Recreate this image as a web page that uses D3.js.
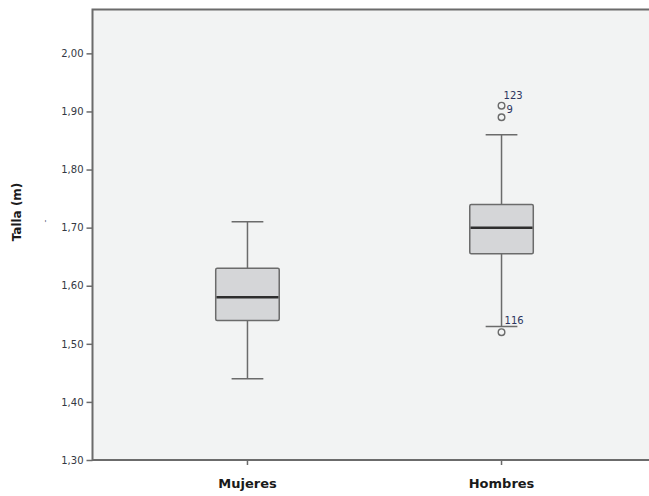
<!DOCTYPE html>
<html>
<head>
<meta charset="utf-8">
<script src="https://cdn.jsdelivr.net/npm/d3@7"></script>
<style>
  body { margin: 0; background: #fff; }
  svg { display: block; }
</style>
</head>
<body>
<div id="chart"></div>
<script>
// categories and box statistics
const categories = ['Mujeres', 'Hombres'];
const whiskerLow = [1.44, 1.53];
const q1 = [1.54, 1.655];
const median = [1.58, 1.70];
const q3 = [1.63, 1.74];
const whiskerHigh = [1.71, 1.86];

// outliers (case number, value)
const outlierGroup = ['Hombres', 'Hombres', 'Hombres'];
const outlierId = ['123', '9', '116'];
const outlierValue = [1.91, 1.89, 1.52];

const yTicks = [1.30, 1.40, 1.50, 1.60, 1.70, 1.80, 1.90, 2.00];

const WIDTH = 649;
const HEIGHT = 496;
const LEFT = 92.5;
const TOP = 9.5;
const BOTTOM = 460;
const PLOT_W = 564;

const GRID = '#6b6b6b';
const BOX_FILL = '#d5d6d8';
const TEXT_COLOR = '#343843';

let svg = d3.select('#chart').append('svg')
  .attr('width', WIDTH)
  .attr('height', HEIGHT);

let x = d3.scaleBand()
  .domain(categories)
  .range([LEFT, LEFT + PLOT_W])
  .paddingInner(0)
  .paddingOuter(0.11);

let y = d3.scaleLinear()
  .domain([1.30, 2.0755])
  .range([BOTTOM, TOP]);

// plot background
svg.append('rect')
  .attr('x', LEFT)
  .attr('y', TOP)
  .attr('width', PLOT_W)
  .attr('height', BOTTOM - TOP)
  .attr('fill', '#f2f3f3')
  .attr('stroke', GRID)
  .attr('stroke-width', 2);

// y axis
let yAxis = svg.append('g')
  .attr('transform', `translate(${LEFT},0)`)
  .call(d3.axisLeft(y)
    .tickValues(yTicks)
    .tickSize(6)
    .tickPadding(3)
    .tickFormat((d) => d3.format('.2f')(d).replace('.', ',')));
yAxis.select('.domain').remove();
yAxis.selectAll('line').attr('stroke', GRID).attr('stroke-width', 1.5);
yAxis.selectAll('text')
  .attr('fill', TEXT_COLOR)
  .style('font-family', 'DejaVu Sans, sans-serif')
  .style('font-size', '10px');

// x axis
let xAxis = svg.append('g')
  .attr('transform', `translate(0,${BOTTOM})`)
  .call(d3.axisBottom(x).tickSize(5).tickPadding(14));
xAxis.select('.domain').remove();
xAxis.selectAll('line').attr('stroke', GRID).attr('stroke-width', 1.5);
xAxis.selectAll('text')
  .attr('fill', '#1a1a1a')
  .style('font-family', 'DejaVu Sans, sans-serif')
  .style('font-weight', 'bold')
  .style('font-size', '13px');

// axis title
svg.append('text')
  .attr('transform', 'translate(21,212) rotate(-90)')
  .attr('text-anchor', 'middle')
  .attr('fill', '#1a1a1a')
  .style('font-family', 'DejaVu Sans, sans-serif')
  .style('font-weight', 'bold')
  .style('font-size', '12px')
  .text('Talla (m)');

// stray mark next to the title
svg.append('text')
  .attr('transform', 'translate(48,221) rotate(-90)')
  .attr('text-anchor', 'middle')
  .attr('fill', '#55627a')
  .style('font-family', 'DejaVu Sans, sans-serif')
  .style('font-size', '8px')
  .text('-');

let boxW = x.bandwidth() * 0.25;
let capW = boxW / 2;

let rows = categories.map((c, i) => ({
  cat: c,
  lo: whiskerLow[i],
  q1: q1[i],
  med: median[i],
  q3: q3[i],
  hi: whiskerHigh[i],
}));

let box = svg.selectAll('.box')
  .data(rows)
  .enter().append('g')
  .attr('class', 'box')
  .attr('transform', (d) => `translate(${x(d.cat) + x.bandwidth() / 2},0)`);

// whiskers
box.append('line')
  .attr('x1', 0).attr('x2', 0)
  .attr('y1', (d) => y(d.hi)).attr('y2', (d) => y(d.q3))
  .attr('stroke', GRID).attr('stroke-width', 1.5);
box.append('line')
  .attr('x1', 0).attr('x2', 0)
  .attr('y1', (d) => y(d.q1)).attr('y2', (d) => y(d.lo))
  .attr('stroke', GRID).attr('stroke-width', 1.5);
box.append('line')
  .attr('x1', -capW / 2).attr('x2', capW / 2)
  .attr('y1', (d) => y(d.hi)).attr('y2', (d) => y(d.hi))
  .attr('stroke', GRID).attr('stroke-width', 1.5);
box.append('line')
  .attr('x1', -capW / 2).attr('x2', capW / 2)
  .attr('y1', (d) => y(d.lo)).attr('y2', (d) => y(d.lo))
  .attr('stroke', GRID).attr('stroke-width', 1.5);

// box
box.append('rect')
  .attr('x', -boxW / 2)
  .attr('width', boxW)
  .attr('y', (d) => y(d.q3))
  .attr('height', (d) => y(d.q1) - y(d.q3))
  .attr('rx', 1.5)
  .attr('fill', BOX_FILL)
  .attr('stroke', GRID)
  .attr('stroke-width', 1.5);

// median
box.append('line')
  .attr('x1', -boxW / 2 + 0.75).attr('x2', boxW / 2 - 0.75)
  .attr('y1', (d) => y(d.med)).attr('y2', (d) => y(d.med))
  .attr('stroke', '#2e2e2e').attr('stroke-width', 2.5);

// outliers
let outliers = outlierId.map((id, i) => ({
  cat: outlierGroup[i],
  id: id,
  v: outlierValue[i],
}));
let labelShift = { '123': [2, -7], '9': [5, -4], '116': [3, -8] };

let out = svg.selectAll('.outlier')
  .data(outliers)
  .enter().append('g')
  .attr('class', 'outlier')
  .attr('transform', (d) => `translate(${x(d.cat) + x.bandwidth() / 2},${y(d.v)})`);

out.append('circle')
  .attr('r', 3.3)
  .attr('fill', 'none')
  .attr('stroke', GRID)
  .attr('stroke-width', 1.4);

out.append('text')
  .attr('x', (d) => labelShift[d.id][0])
  .attr('y', (d) => labelShift[d.id][1])
  .attr('fill', '#2c3560')
  .style('font-family', 'DejaVu Sans, sans-serif')
  .style('font-size', '10px')
  .text((d) => d.id);
</script>
</body>
</html>
